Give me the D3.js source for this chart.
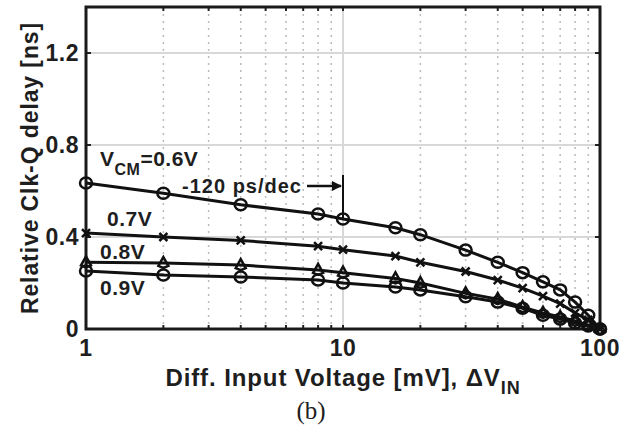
<!DOCTYPE html>
<html>
<head>
<meta charset="utf-8">
<script src="https://cdn.jsdelivr.net/npm/d3@7"></script>
<style>
  body { margin: 0; background: #fff; }
  svg text { font-family: Arial, "Liberation Sans", sans-serif; font-weight: bold; fill: #1e1e1e; }
</style>
</head>
<body>
<div id="chart"></div>
<script>
// input voltage points [mV]
var dVin = [1, 2, 4, 8, 10, 16, 20, 30, 40, 50, 60, 70, 80, 90, 100];

// relative clk-q delay [ns] per common-mode voltage
var vcm06 = [0.635, 0.59, 0.54, 0.50, 0.478, 0.44, 0.41, 0.343, 0.29, 0.245, 0.205, 0.17, 0.117, 0.06, 0];
var vcm07 = [0.417, 0.40, 0.385, 0.36, 0.345, 0.317, 0.29, 0.25, 0.213, 0.178, 0.143, 0.11, 0.07, 0.04, 0];
var vcm08 = [0.29, 0.287, 0.278, 0.257, 0.245, 0.22, 0.20, 0.155, 0.13, 0.095, 0.07, 0.052, 0.035, 0.017, 0];
var vcm09 = [0.252, 0.235, 0.226, 0.213, 0.20, 0.183, 0.17, 0.14, 0.117, 0.09, 0.06, 0.043, 0.026, 0.013, 0];

var yTicks = [0, 0.4, 0.8, 1.2];
var xTicks = [1, 10, 100];

var series = [
    { name: "0.6V", vals: vcm06, marker: "circle" },
    { name: "0.7V", vals: vcm07, marker: "cross" },
    { name: "0.8V", vals: vcm08, marker: "triangle" },
    { name: "0.9V", vals: vcm09, marker: "circle" }
];

var width = 642, height = 437;
var margin = { left: 86, right: 42, top: 7, bottom: 108 };

var svg = d3.select("#chart").append("svg")
    .attr("width", width)
    .attr("height", height);

var x = d3.scaleLog().domain([1, 100]).range([margin.left, width - margin.right]);
var y = d3.scaleLinear().domain([0, 1.4]).range([height - margin.bottom, margin.top]);

// minor grid (dotted)
var minor = [];
[1, 10].forEach(function (d) {
    for (var k = 2; k <= 9; k++) minor.push(d * k);
});

svg.selectAll(".minor")
    .data(minor)
    .enter()
    .append("line")
    .attr("x1", function (d) { return x(d); })
    .attr("x2", function (d) { return x(d); })
    .attr("y1", y(1.4))
    .attr("y2", y(0))
    .attr("stroke", "#bbb")
    .attr("stroke-width", 1.5)
    .attr("stroke-dasharray", "2,5");

// major grid
svg.selectAll(".hgrid")
    .data(yTicks.slice(1))
    .enter()
    .append("line")
    .attr("x1", x(1)).attr("x2", x(100))
    .attr("y1", function (d) { return y(d); })
    .attr("y2", function (d) { return y(d); })
    .attr("stroke", "#d8d8d8")
    .attr("stroke-width", 2);

svg.append("line")
    .attr("x1", x(10)).attr("x2", x(10))
    .attr("y1", y(1.4)).attr("y2", y(0))
    .attr("stroke", "#d8d8d8")
    .attr("stroke-width", 2);

// small inside ticks on all sides
minor.concat([10]).forEach(function (d) {
    svg.append("line").attr("x1", x(d)).attr("x2", x(d))
        .attr("y1", y(1.4)).attr("y2", y(1.4) + 4)
        .attr("stroke", "#222").attr("stroke-width", 2);
    svg.append("line").attr("x1", x(d)).attr("x2", x(d))
        .attr("y1", y(0)).attr("y2", y(0) - 4)
        .attr("stroke", "#222").attr("stroke-width", 2);
});
yTicks.slice(1).forEach(function (d) {
    svg.append("line").attr("x1", x(1)).attr("x2", x(1) + 5)
        .attr("y1", y(d)).attr("y2", y(d))
        .attr("stroke", "#222").attr("stroke-width", 2);
    svg.append("line").attr("x1", x(100)).attr("x2", x(100) - 5)
        .attr("y1", y(d)).attr("y2", y(d))
        .attr("stroke", "#222").attr("stroke-width", 2);
});

// box
svg.append("rect")
    .attr("x", x(1)).attr("y", y(1.4))
    .attr("width", x(100) - x(1))
    .attr("height", y(0) - y(1.4))
    .attr("fill", "none")
    .attr("stroke", "#1a1a1a")
    .attr("stroke-width", 3);

// tick labels
svg.selectAll(".ylab")
    .data(yTicks)
    .enter()
    .append("text")
    .attr("x", x(1) - 7)
    .attr("y", function (d) { return y(d) + 8; })
    .attr("text-anchor", "end")
    .style("font-size", "23px")
    .style("letter-spacing", "0.5px")
    .text(function (d) { return d === 0 ? "0" : d3.format(".1f")(d); });

svg.selectAll(".xlab")
    .data(xTicks)
    .enter()
    .append("text")
    .attr("x", function (d) { return x(d); })
    .attr("y", y(0) + 27)
    .attr("text-anchor", "middle")
    .style("font-size", "23px")
    .style("letter-spacing", "0.5px")
    .text(function (d) { return d; });

// data lines
var line = d3.line()
    .x(function (d, i) { return x(dVin[i]); })
    .y(function (d) { return y(d); });

series.forEach(function (s) {
    svg.append("path")
        .datum(s.vals)
        .attr("d", line)
        .attr("fill", "none")
        .attr("stroke", "#111")
        .attr("stroke-width", 3);

    var g = svg.append("g");
    s.vals.forEach(function (v, i) {
        var cx = x(dVin[i]), cy = y(v);
        if (s.marker == "circle") {
            g.append("ellipse").attr("cx", cx).attr("cy", cy)
                .attr("rx", 6).attr("ry", 5.5)
                .attr("fill", "none").attr("stroke", "#111").attr("stroke-width", 2.5);
        } else if (s.marker == "cross") {
            g.append("path")
                .attr("d", "M" + (cx - 4) + "," + (cy - 4) + "L" + (cx + 4) + "," + (cy + 4) +
                    "M" + (cx - 4) + "," + (cy + 4) + "L" + (cx + 4) + "," + (cy - 4))
                .attr("stroke", "#111").attr("stroke-width", 2.5);
        } else {
            g.append("path")
                .attr("d", "M" + cx + "," + (cy - 6) + "L" + (cx + 5) + "," + (cy + 3) +
                    "L" + cx + "," + (cy + 5) + "L" + (cx - 5) + "," + (cy + 3) + "Z")
                .attr("fill", "none").attr("stroke", "#111").attr("stroke-width", 2.5);
        }
    });
});

// series labels
var vcmLab = svg.append("text")
    .attr("x", 100).attr("y", 166)
    .style("font-size", "21px")
    .style("letter-spacing", "0.5px");
vcmLab.append("tspan").text("V");
vcmLab.append("tspan").attr("dy", 9).style("font-size", "16px").text("CM");
vcmLab.append("tspan").attr("dy", -9).text("=0.6V");

[["0.7V", 107, 226], ["0.8V", 100, 259], ["0.9V", 100, 295]].forEach(function (d) {
    svg.append("text").attr("x", d[1]).attr("y", d[2])
        .style("font-size", "21px")
        .style("letter-spacing", "0.5px")
        .text(d[0]);
});

// slope annotation
svg.append("text")
    .attr("x", 302).attr("y", 193)
    .attr("text-anchor", "end")
    .style("font-size", "20px")
    .style("letter-spacing", "1px")
    .text("-120 ps/dec");

svg.append("defs").append("marker")
    .attr("id", "arrow")
    .attr("viewBox", "0 0 10 10")
    .attr("refX", 9).attr("refY", 5)
    .attr("markerWidth", 4).attr("markerHeight", 4)
    .attr("orient", "auto")
    .append("path")
    .attr("d", "M0,0L10,5L0,10Z")
    .attr("fill", "#111");

svg.append("line")
    .attr("x1", 307).attr("x2", x(10) - 2)
    .attr("y1", 186).attr("y2", 186)
    .attr("stroke", "#111").attr("stroke-width", 2.5)
    .attr("marker-end", "url(#arrow)");

svg.append("line")
    .attr("x1", x(10)).attr("x2", x(10))
    .attr("y1", 175).attr("y2", y(0.478))
    .attr("stroke", "#111").attr("stroke-width", 2);

// axis titles
var xt = svg.append("text")
    .attr("x", (x(1) + x(100)) / 2)
    .attr("y", 386)
    .attr("text-anchor", "middle")
    .style("font-size", "24px")
    .style("letter-spacing", "0.9px");
xt.append("tspan").text("Diff. Input Voltage [mV], \u0394V");
xt.append("tspan").attr("dy", 8).style("font-size", "18px").text("IN");

svg.append("text")
    .attr("transform", "translate(38," + ((y(0) + y(1.4)) / 2) + ") rotate(-90)")
    .attr("text-anchor", "middle")
    .style("font-size", "23px")
    .style("letter-spacing", "0.9px")
    .text("Relative Clk-Q delay [ns]");

svg.append("text")
    .attr("x", 311).attr("y", 419)
    .attr("text-anchor", "middle")
    .style("font-family", "'Liberation Serif', 'Times New Roman', serif")
    .style("font-weight", "normal")
    .style("font-size", "25px")
    .text("(b)");
</script>
</body>
</html>
